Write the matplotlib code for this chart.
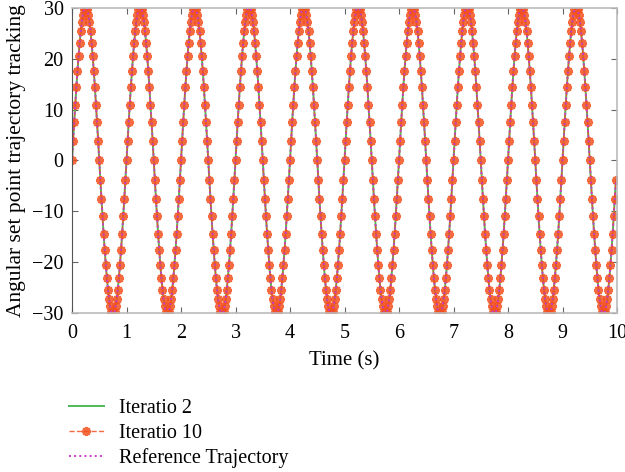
import numpy as np
import matplotlib
matplotlib.use('Agg')
import matplotlib.pyplot as plt

# one cycle of the set point, read every 0.02 s (period 1 s)
cycle = [0.0, 3.8, 7.5, 11.0, 14.5, 17.6, 20.5, 23.1, 25.4, 27.3, 28.7, 29.8, 30.0,
         30.0, 29.8, 28.7, 27.3, 25.4, 23.1, 20.5, 17.6, 14.5, 11.0, 7.5, 3.8,
         0.0, -3.8, -7.5, -11.0, -14.5, -17.6, -20.5, -23.1, -25.4, -27.3, -28.7, -29.8, -30.0,
         -30.0, -29.8, -28.7, -27.3, -25.4, -23.1, -20.5, -17.6, -14.5, -11.0, -7.5, -3.8]
n_cycles = 10
dt = 0.02

time = np.arange(len(cycle) * n_cycles) * dt
reference = np.tile(cycle, n_cycles)
iter2 = reference.copy()
iter10 = reference.copy()

plt.rcParams['font.family'] = ['Liberation Serif', 'DejaVu Serif']

fig = plt.figure(figsize=(6.25, 4.72), dpi=100)
ax = fig.add_axes([0.1152, 0.337, 0.872, 0.646])

l1, = ax.plot(time, iter2, '-', color='#4cbb5a', lw=1.4, label='Iteratio 2')
l2, = ax.plot(time, iter10, '--', color='#f4511e', lw=1.0, marker=(8, 2, 0),
              markersize=6.5, markeredgewidth=1.6, alpha=0.85, label='Iteratio 10')
l3, = ax.plot(time, reference, ':', color='#c83cc8', lw=1.4, label='Reference Trajectory')

ax.set_xlim(0, 10)
ax.set_ylim(-30, 30)
ax.set_xticks(range(0, 11))
ax.set_yticks(range(-30, 31, 10))
ax.tick_params(direction='in', top=True, right=True, labelsize=14.5, length=4,
               color='#666666')
ax.tick_params(axis='x', pad=8)
ax.tick_params(axis='y', pad=6)
for side in ['top', 'right', 'bottom']:
    ax.spines[side].set_color('#bbbbbb')
    ax.spines[side].set_linewidth(1.2)
ax.spines['left'].set_color('#555555')

ax.set_xlabel('Time (s)', fontsize=15, labelpad=6)
ax.set_ylabel('Angular set point trajectory tracking', fontsize=15.5)
ax.yaxis.set_label_coords(-0.085, 0.5)

fig.legend(handles=[l1, l2, l3], loc='upper left', bbox_to_anchor=(0.097, 0.172),
           frameon=False, fontsize=14.5, handlelength=1.75, labelspacing=0.28,
           handletextpad=0.75, numpoints=1, borderaxespad=0)

fig.savefig('out.png', dpi=100)
